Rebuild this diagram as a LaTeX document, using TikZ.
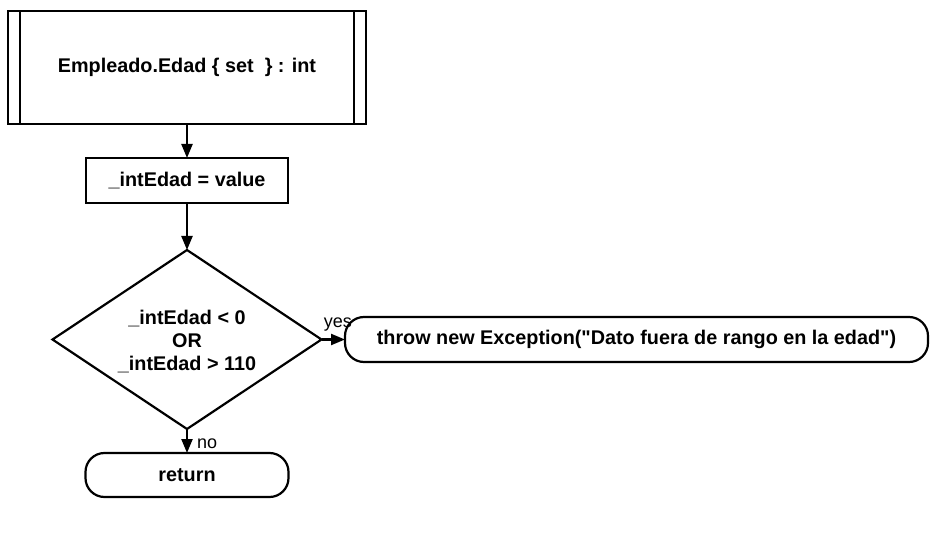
\documentclass[tikz,border=0pt]{standalone}
\usepackage{fontspec}
\setmainfont{Liberation Sans}[Ligatures=TeXOff]
\usetikzlibrary{shapes.geometric,arrows.meta}
\newcommand{\flatlines}[1]{\smash{\makebox[0pt]{\raisebox{-0.42em}{\begin{tabular}{@{}c@{}}#1\end{tabular}}}}}
\begin{document}
\begin{tikzpicture}[x=1bp,y=-1bp,
  every node/.style={inner sep=0pt,outer sep=0pt},
  box/.style={draw,line width=2.2bp,fill=white,font=\bfseries\fontsize{19.8bp}{23bp}\selectfont,align=center},
  terminal/.style={box,rounded corners=19bp},
  decision/.style={box,diamond},
  flow/.style={line width=2.2bp,-{Triangle[length=14bp,width=11bp]}},
  lbl/.style={font=\fontsize{18bp}{20bp}\selectfont}]
\useasboundingbox[fill=white] (0,0) rectangle (930,556);

% subroutine header
\node[box,minimum width=358bp,minimum height=113bp] (head) at (187,67.5) {\raisebox{-2bp}{Empleado.Edad \{ set~~\} : int}};
\draw[line width=2.2bp] ([xshift=12bp]head.north west) -- ([xshift=12bp]head.south west);
\draw[line width=2.2bp] ([xshift=-12bp]head.north east) -- ([xshift=-12bp]head.south east);

% assignment
\node[box,minimum width=202bp,minimum height=45bp] (assign) at (187,180.5) {\_intEdad = value};

% range check
\node[decision,minimum width=269bp,minimum height=179bp] (check) at (187,339.5)
  {\flatlines{\_intEdad < 0\\OR\\\_intEdad > 110}};

% outcomes
\node[terminal,minimum width=583bp,minimum height=45bp] (throw) at (636.5,339.5)
  {throw new Exception("Dato fuera de rango en la edad")};
\node[terminal,minimum width=203bp,minimum height=44bp] (ret) at (187,475) {return};

% connectors
\draw[flow] (head.south) -- (assign.north);
\draw[flow] (assign.south) -- (check.north);
\draw[flow] (check.east) -- (throw.west);
\draw[flow] (check.south) -- (ret.north);

\node[lbl,anchor=south east] at ([xshift=7bp,yshift=8bp]throw.west) {yes};
\node[lbl,anchor=west] at ([xshift=10bp,yshift=-15bp]check.south) {no};
\end{tikzpicture}
\end{document}
